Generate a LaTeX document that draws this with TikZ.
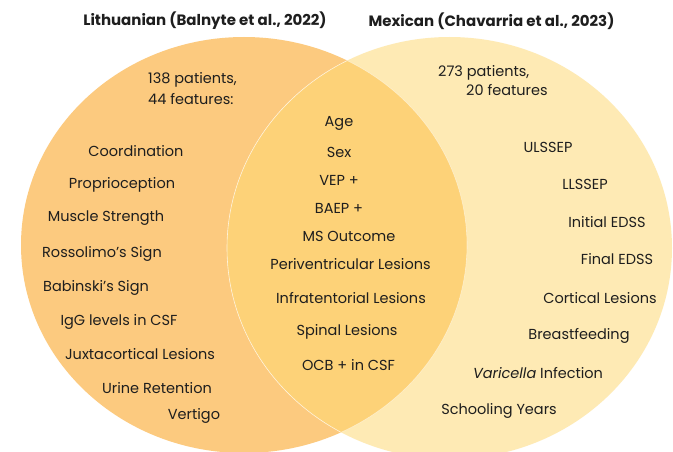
\documentclass[tikz,border=0pt]{standalone}
\usepackage{fontspec}
\setmainfont{Poppins}
\definecolor{lfill}{RGB}{252,202,127}
\definecolor{rfill}{RGB}{254,234,180}
\definecolor{mfill}{RGB}{253,210,120}
\definecolor{txt}{RGB}{30,30,30}
\tikzset{
  lbl/.style={text=txt, inner sep=0pt, yshift=-1.5pt, font=\fontsize{14.5}{17}\selectfont},
  ttl/.style={text=txt, inner sep=0pt, yshift=-1pt, font=\fontsize{15}{18}\selectfont\bfseries},
}
\begin{document}
\begin{tikzpicture}[x=1pt,y=-1pt]
\clip (0,0) rectangle (673,452);
\fill[white] (0,0) rectangle (673,452);
\fill[lfill] (244,245) ellipse [x radius=223pt, y radius=208pt];
\fill[rfill] (449.5,248) ellipse [x radius=222.5pt, y radius=211pt];
\begin{scope}
  \clip (244,245) ellipse [x radius=223pt, y radius=208pt];
  \fill[mfill] (449.5,248) ellipse [x radius=222.5pt, y radius=211pt];
  \draw[white, opacity=0.7, line width=0.6pt] (449.5,248) ellipse [x radius=222.5pt, y radius=211pt];
\end{scope}
\begin{scope}
  \clip (449.5,248) ellipse [x radius=222.5pt, y radius=211pt];
  \draw[white, opacity=0.5, line width=0.6pt] (244,245) ellipse [x radius=223pt, y radius=208pt];
\end{scope}
% titles
\node[ttl] (tl) at (205,20) {Lithuanian (Balnyte et al., 2022)};
\node[ttl] (tr) at (491.5,20) {Mexican (Chavarria et al., 2023)};
% counts
\node[lbl, anchor=west] (l1) at (148,78) {138 patients,};
\node[lbl, anchor=west] (l2) at (148,98) {44 features:};
\node[lbl, anchor=west] (r1) at (438,71) {273 patients,};
\node[lbl, anchor=west] (r2) at (466,89) {20 features};
% left
\node[lbl] (a1) at (136,150) {Coordination};
\node[lbl] (a2) at (122,183) {Proprioception};
\node[lbl] (a3) at (106,217) {Muscle Strength};
\node[lbl] (a4) at (102,252) {Rossolimo’s Sign};
\node[lbl] (a5) at (96,286) {Babinski's Sign};
\node[lbl] (a6) at (119,320) {IgG levels in CSF};
\node[lbl] (a7) at (140,353) {Juxtacortical Lesions};
\node[lbl] (a8) at (157,387) {Urine Retention};
\node[lbl] (a9) at (194,414) {Vertigo};
% middle
\node[lbl] (m1) at (339,122) {Age};
\node[lbl] (m2) at (339,151) {Sex};
\node[lbl] (m3) at (339,179) {VEP +};
\node[lbl] (m4) at (339,207) {BAEP +};
\node[lbl] (m5) at (349,235) {MS Outcome};
\node[lbl] (m6) at (350.5,263) {Periventricular Lesions};
\node[lbl] (m7) at (351,297) {Infratentorial Lesions};
\node[lbl] (m8) at (347,330) {Spinal Lesions};
\node[lbl] (m9) at (348.5,364) {OCB + in CSF};
% right
\node[lbl] (b1) at (548,146) {ULSSEP};
\node[lbl] (b2) at (585,183) {LLSSEP};
\node[lbl] (b3) at (607,221) {Initial EDSS};
\node[lbl] (b4) at (617,258) {Final EDSS};
\node[lbl] (b5) at (600,297) {Cortical Lesions};
\node[lbl] (b6) at (579,334) {Breastfeeding};
\node[lbl] (b7) at (538,372) {\textit{Varicella} Infection};
\node[lbl] (b8) at (499,409) {Schooling Years};
\end{tikzpicture}
\end{document}
